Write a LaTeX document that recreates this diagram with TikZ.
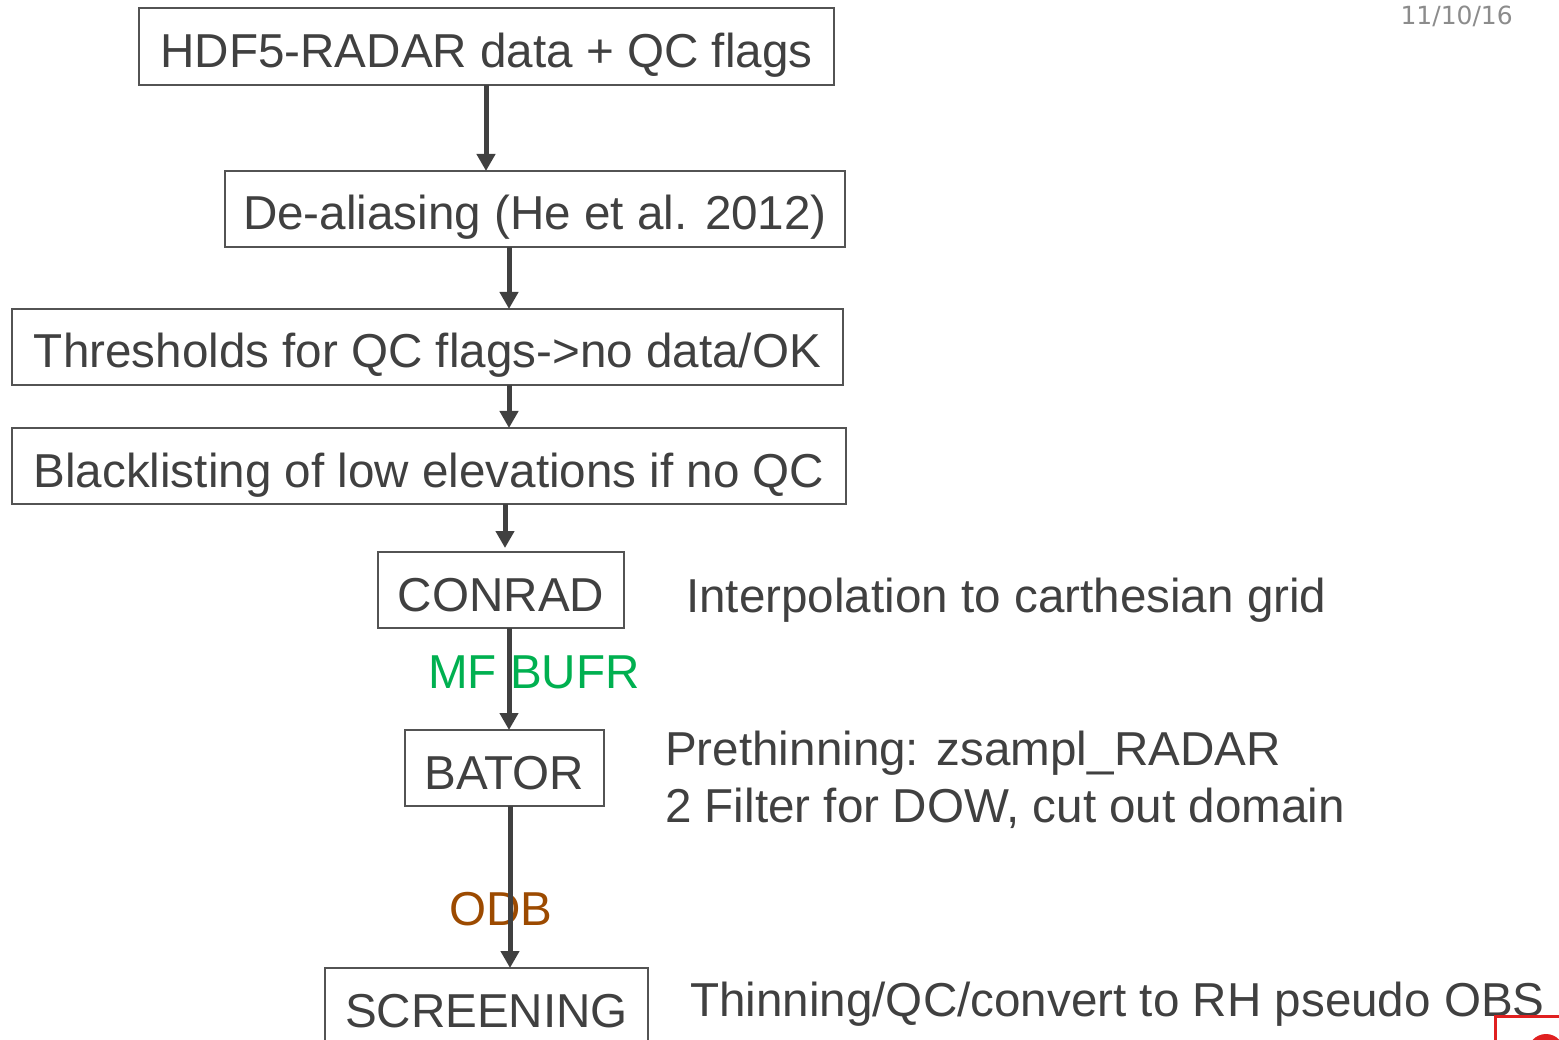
\documentclass[tikz,border=0pt]{standalone}
\usepackage{fontspec}
\setmainfont{Liberation Sans}
\newfontfamily\datefont{DejaVu Sans}
\usetikzlibrary{arrows.meta}
\definecolor{txt}{HTML}{404040}
\definecolor{mfgreen}{HTML}{00B050}
\definecolor{odbbrown}{HTML}{9C4A00}
\definecolor{dategray}{HTML}{8C8C8C}
\definecolor{logored}{HTML}{E02020}
\tikzset{
  box/.style={draw=txt!90, line width=1.2pt, text=txt, inner sep=0pt, font=\fontsize{47.6}{54}\selectfont, anchor=center, text height=42pt, text depth=0pt},
  flow/.style={draw=txt, line width=5pt, -{Triangle[length=17pt,width=18pt]}},
  side/.style={text=txt, inner sep=0pt, anchor=base west, font=\fontsize{47.6}{57}\selectfont, align=left},
  lbl/.style={inner sep=0pt, anchor=base, font=\fontsize{47.6}{54}\selectfont}
}
\begin{document}
\begin{tikzpicture}[x=1pt,y=-1pt]
\useasboundingbox (0,0) rectangle (1559,1040);
\clip (0,0) rectangle (1559,1040);
\node[box, minimum width=695pt, minimum height=77pt] (hdf) at (486.5,46.5) {HDF5-RADAR data + QC flags};
\node[box, minimum width=620pt, minimum height=76pt] (deal) at (535,209) {De-aliasing (He et al. 2012)};
\node[box, minimum width=831pt, minimum height=76pt] (thr) at (427.5,347) {Thresholds for QC flags->no data/OK};
\node[box, minimum width=834pt, minimum height=76pt] (black) at (429,466) {Blacklisting of low elevations if no QC};
\node[box, minimum width=246pt, minimum height=76pt] (conrad) at (501,590) {CONRAD};
\node[box, minimum width=199pt, minimum height=76pt] (bator) at (504.5,768) {BATOR};
\node[box, minimum width=323pt, minimum height=76pt] (scr) at (486.5,1006) {SCREENING};

\coordinate (a1s) at (486,85); \coordinate (a1e) at (486,171);
\coordinate (a2s) at (509,247); \coordinate (a2e) at (509,309);
\coordinate (a3s) at (509,385); \coordinate (a3e) at (509,428);
\coordinate (a4s) at (505,504); \coordinate (a4e) at (505,548);
\coordinate (a5s) at (509,628); \coordinate (a5e) at (509,730);
\coordinate (a6s) at (510,806); \coordinate (a6e) at (510,968);

\node[lbl, text=mfgreen] (mf) at (534,688) {MF BUFR};
\node[lbl, text=odbbrown] (odb) at (501,925) {ODB};

\draw[flow] (a1s) -- (a1e);
\draw[flow] (a2s) -- (a2e);
\draw[flow] (a3s) -- (a3e);
\draw[flow] (a4s) -- (a4e);
\draw[flow] (a5s) -- (a5e);
\draw[flow] (a6s) -- (a6e);

\node[side] (interp) at (686,612) {Interpolation to carthesian grid};
\node[side] (pre) at (665,822) {Prethinning: zsampl\_RADAR\\2 Filter for DOW, cut out domain};
\node[side] (thin) at (690,1016) {Thinning/QC/convert to RH pseudo OBS};

\node[text=dategray, inner sep=0pt, anchor=base east, font=\datefont\fontsize{25}{30}\selectfont] (date) at (1513,25) {11/10/16};

\draw[logored, line width=3pt] (1495.5,1016.5) rectangle (1575,1070);
\fill[logored] (1546,1052) circle (18);
\end{tikzpicture}
\end{document}
